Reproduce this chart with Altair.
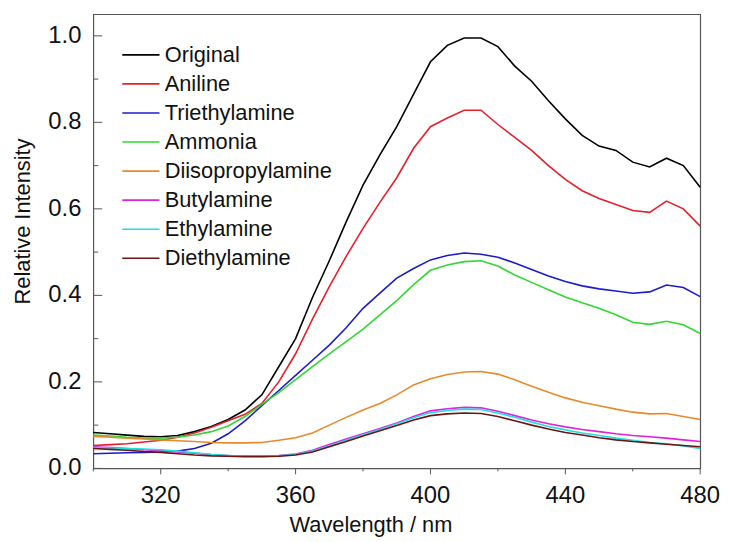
import altair as alt
import pandas as pd

wavelength = [300, 305, 310, 315, 320, 325, 330, 335, 340, 345, 350, 355, 360, 365, 370, 375,
              380, 385, 390, 395, 400, 405, 410, 415, 420, 425, 430, 435, 440, 445, 450, 455,
              460, 465, 470, 475, 480]

original = [0.083, 0.080, 0.077, 0.074, 0.073, 0.076, 0.085, 0.097, 0.113, 0.135, 0.170, 0.235,
            0.300, 0.395, 0.480, 0.570, 0.655, 0.725, 0.790, 0.865, 0.940, 0.978, 0.995, 0.995,
            0.975, 0.930, 0.895, 0.850, 0.808, 0.770, 0.745, 0.735, 0.708, 0.697, 0.717, 0.700,
            0.650]
aniline = [0.053, 0.055, 0.057, 0.061, 0.065, 0.072, 0.082, 0.095, 0.110, 0.125, 0.150, 0.200,
           0.265, 0.345, 0.420, 0.490, 0.555, 0.615, 0.672, 0.740, 0.790, 0.810, 0.828, 0.828,
           0.795, 0.765, 0.735, 0.700, 0.668, 0.642, 0.624, 0.610, 0.596, 0.592, 0.618, 0.600,
           0.560]
triethylamine = [0.034, 0.035, 0.036, 0.037, 0.038, 0.040, 0.046, 0.058, 0.080, 0.110, 0.145,
                 0.180, 0.215, 0.250, 0.285, 0.325, 0.370, 0.405, 0.440, 0.462, 0.482, 0.492,
                 0.498, 0.495, 0.488, 0.475, 0.460, 0.445, 0.432, 0.422, 0.415, 0.410, 0.405,
                 0.408, 0.424, 0.418, 0.397]
ammonia = [0.077, 0.075, 0.072, 0.070, 0.070, 0.072, 0.077, 0.085, 0.098, 0.120, 0.148, 0.175,
           0.205, 0.235, 0.265, 0.293, 0.322, 0.355, 0.388, 0.425, 0.458, 0.470, 0.478, 0.480,
           0.468, 0.447, 0.430, 0.413, 0.396, 0.383, 0.370, 0.355, 0.338, 0.333, 0.340, 0.332,
           0.312]
diisopropylamine = [0.074, 0.072, 0.070, 0.068, 0.066, 0.064, 0.062, 0.060, 0.059, 0.059, 0.060,
                    0.065, 0.071, 0.082, 0.100, 0.118, 0.135, 0.150, 0.170, 0.193, 0.207, 0.217,
                    0.223, 0.224, 0.218, 0.205, 0.190, 0.176, 0.163, 0.153, 0.145, 0.137, 0.130,
                    0.126, 0.127, 0.120, 0.113]
butylamine = [0.050, 0.048, 0.046, 0.043, 0.041, 0.038, 0.035, 0.032, 0.030, 0.029, 0.029, 0.030,
              0.033, 0.042, 0.055, 0.068, 0.080, 0.092, 0.105, 0.120, 0.133, 0.138, 0.141, 0.140,
              0.132, 0.122, 0.112, 0.103, 0.096, 0.090, 0.085, 0.080, 0.076, 0.073, 0.070, 0.066,
              0.062]
ethylamine = [0.048, 0.047, 0.046, 0.045, 0.043, 0.040, 0.036, 0.032, 0.030, 0.028, 0.028, 0.029,
              0.032, 0.040, 0.052, 0.065, 0.078, 0.090, 0.103, 0.117, 0.129, 0.134, 0.137, 0.136,
              0.128, 0.118, 0.107, 0.097, 0.089, 0.082, 0.076, 0.070, 0.065, 0.060, 0.057, 0.052,
              0.046]
diethylamine = [0.046, 0.044, 0.042, 0.039, 0.037, 0.034, 0.031, 0.029, 0.028, 0.027, 0.027,
                0.028, 0.031, 0.038, 0.050, 0.062, 0.075, 0.087, 0.099, 0.112, 0.122, 0.126,
                0.128, 0.127, 0.120, 0.110, 0.100, 0.091, 0.083, 0.077, 0.071, 0.066, 0.062,
                0.059, 0.056, 0.053, 0.050]

series_names = ["Original", "Aniline", "Triethylamine", "Ammonia", "Diisopropylamine",
                "Butylamine", "Ethylamine", "Diethylamine"]
series_values = [original, aniline, triethylamine, ammonia, diisopropylamine,
                 butylamine, ethylamine, diethylamine]
series_colors = ["#000000", "#e4202a", "#1c1cc8", "#33d633", "#e8892c",
                 "#de22de", "#22dede", "#6e1414"]

x_major = [320, 360, 400, 440, 480]
x_minor = [300, 340, 380, 420, 460]
y_major = [0.0, 0.2, 0.4, 0.6, 0.8, 1.0]
y_minor = [0.1, 0.3, 0.5, 0.7, 0.9]
x_title = ["Wavelength / nm"]
y_title = ["Relative Intensity"]

rows = []
for name, vals in zip(series_names, series_values):
    for w, v in zip(wavelength, vals):
        rows.append({"Wavelength": w, "Intensity": v, "Series": name})
df = pd.DataFrame(rows)

W, H = 612, 458
FONT = "Liberation Sans"
TICK = "#555555"
TXT = "#111111"

x_scale = alt.Scale(domain=[300, 480], nice=False, zero=False)
y_scale = alt.Scale(domain=[0, 1.05], nice=False, zero=False)

lines = alt.Chart(df).mark_line(strokeWidth=1.6).encode(
    x=alt.X("Wavelength:Q", scale=x_scale, axis=None),
    y=alt.Y("Intensity:Q", scale=y_scale, axis=None),
    color=alt.Color("Series:N",
                    scale=alt.Scale(domain=series_names, range=series_colors),
                    sort=series_names,
                    legend=alt.Legend(title=None, orient="none", legendX=37, legendY=30,
                                      symbolType="M-2.5,0H2.5", symbolSize=225,
                                      symbolStrokeWidth=1.6, labelFontSize=22,
                                      labelFont=FONT, labelColor=TXT, labelLimit=0,
                                      labelOffset=13, rowPadding=7.3, padding=0)),
)


def y_tick_layer(values, length):
    return alt.Chart(pd.DataFrame({"v": values})).mark_rule(
        color=TICK, strokeWidth=1
    ).encode(
        y=alt.Y("v:Q", scale=y_scale, axis=None),
        x=alt.value(0),
        x2=alt.value(length),
    )


def x_tick_layer(values, length):
    return alt.Chart(pd.DataFrame({"v": values})).mark_rule(
        color=TICK, strokeWidth=1
    ).encode(
        x=alt.X("v:Q", scale=x_scale, axis=None),
        y=alt.value(H),
        y2=alt.value(H + length),
    )


y_labels = alt.Chart(pd.DataFrame({"v": y_major})).mark_text(
    align="right", baseline="middle", font=FONT, fontSize=24, color=TXT, dx=-12
).encode(
    y=alt.Y("v:Q", scale=y_scale, axis=None),
    x=alt.value(0),
    text=alt.Text("v:Q", format=".1f"),
)

x_labels = alt.Chart(pd.DataFrame({"v": x_major})).mark_text(
    align="center", baseline="middle", font=FONT, fontSize=24, color=TXT
).encode(
    x=alt.X("v:Q", scale=x_scale, axis=None),
    y=alt.value(H + 28),
    text=alt.Text("v:Q", format="d"),
)

x_title_layer = alt.Chart(pd.DataFrame({"t": x_title})).mark_text(
    align="center", baseline="middle", font=FONT, fontSize=22, color=TXT
).encode(
    x=alt.value(280),
    y=alt.value(H + 57),
    text="t:N",
)

y_title_layer = alt.Chart(pd.DataFrame({"t": y_title})).mark_text(
    align="center", baseline="middle", font=FONT, fontSize=22, color=TXT, angle=270
).encode(
    x=alt.value(-71),
    y=alt.value(209),
    text="t:N",
)

chart = alt.layer(
    lines,
    y_tick_layer(y_major, 9),
    y_tick_layer(y_minor, 5),
    x_tick_layer(x_major, 6),
    x_tick_layer(x_minor, 3),
    y_labels,
    x_labels,
    x_title_layer,
    y_title_layer,
).properties(
    width=W, height=H,
    autosize=alt.AutoSizeParams(type="none"),
    padding={"left": 86, "top": 4, "right": 24, "bottom": 76},
).configure_view(stroke="#555555", strokeWidth=1.2)

chart.save("out.html", embed_options={"renderer": "svg", "actions": False})
